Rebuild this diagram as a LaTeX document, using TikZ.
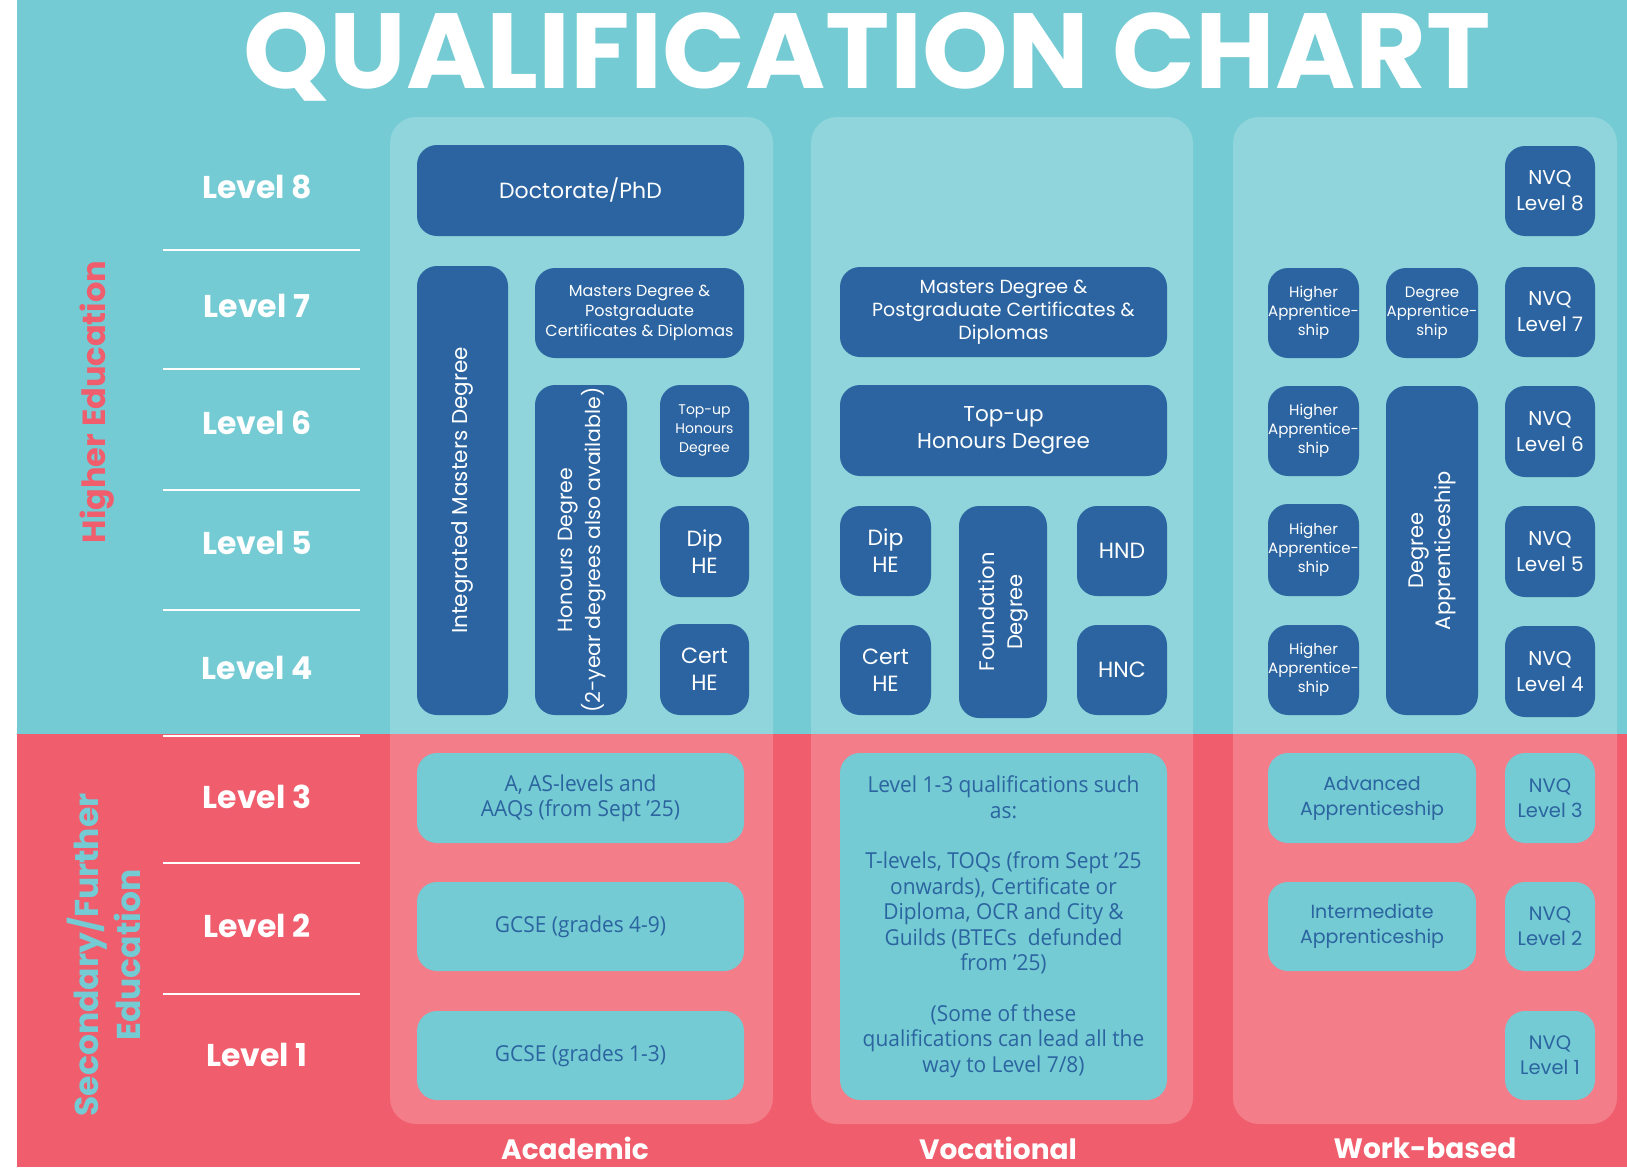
\documentclass[tikz,border=0pt]{standalone}
\usepackage{graphicx}
\usepackage{fontspec}
\setmainfont{Poppins}
\newfontfamily\condfont{Open Sans}[FakeStretch=0.95]
\definecolor{qteal}{HTML}{74CBD3}
\definecolor{qpink}{HTML}{F05D6C}
\definecolor{qblue}{HTML}{2B64A0}
\newcommand\fs[2]{\fontsize{#1}{#2}\selectfont}
\newcommand\qbx[7]{\node[#1, minimum width={(#5-#3)*1pt}, minimum height={(#6-#4)*1pt}] (#2) at ({(#3+#5)/2},{(#4+#6)/2}) {#7};}
\newcommand\vtxt[1]{\rotatebox{90}{\begin{tabular}{@{}c@{}}#1\end{tabular}}}
\tikzset{
  dbox/.style={rounded corners=20pt, fill=qblue, text=white, align=center, inner sep=0pt},
  tbox/.style={rounded corners=20pt, fill=qteal, text=qblue, align=center, inner sep=0pt},
  panel/.style={rounded corners=26pt, fill=white, fill opacity=0.2},
  lvl/.style={text=white, font=\fs{31.5}{36}\bfseries},
  levelrule/.style={draw=white, line width=2pt},
  collabel/.style={text=white, font=\fs{28}{34}\bfseries},
}
\begin{document}
\begin{tikzpicture}[x=1pt,y=-1pt]
\useasboundingbox (0,0) rectangle (1627,1167);
\fill[white] (0,0) rectangle (1627,1167);
\fill[qteal] (17,0) rectangle (1627,734);
\fill[qpink] (17,734) rectangle (1627,1167);
% panels
\fill[panel] (390,117) rectangle (773,1124);
\fill[panel] (811,117) rectangle (1193,1124);
\fill[panel] (1233,117) rectangle (1617,1124);
% title
\node[anchor=base, text=white, inner sep=0pt] (title) at (867.5,88) {\resizebox{1247pt}{76pt}{\bfseries QUALIFICATION CHART}};
% side labels
\node[rotate=90, text=qpink, font=\fs{32}{38}\bfseries] (he) at (97,402) {Higher Education};
\node[rotate=90, text=qteal, align=center, font=\fs{33}{42}\bfseries] (sfe) at (104,955) {Secondary/Further\\Education};
% levels
\node[lvl] (l8) at (257,187) {Level 8};
\node[lvl] (l7) at (257,306) {Level 7};
\node[lvl] (l6) at (257,423) {Level 6};
\node[lvl] (l5) at (257,543) {Level 5};
\node[lvl] (l4) at (257,668) {Level 4};
\node[lvl] (l3) at (257,797) {Level 3};
\node[lvl] (l2) at (257,926) {Level 2};
\node[lvl] (l1) at (257,1055) {Level 1};
\foreach \yy in {250,369,490,610,736,863,994}{\draw[levelrule] (163,\yy) -- (360,\yy);}
% column labels
\node[collabel] (acad) at (575,1148) {Academic};
\node[collabel] (voc) at (998,1148) {Vocational};
\node[collabel] (work) at (1425,1148) {Work-based};
% Academic
\qbx{dbox,font=\fs{22}{26}}{phd}{417}{145}{744}{236}{Doctorate/PhD}
\qbx{dbox,font=\fs{21.5}{26}}{ima}{417}{266}{508}{715}{\rotatebox{90}{Integrated Masters Degree}}
\qbx{dbox,font=\fs{16}{20}}{amas}{535}{268}{744}{358}{Masters Degree \&\\Postgraduate\\Certificates \& Diplomas}
\qbx{dbox,font=\fs{20.5}{28}}{hon}{535}{385}{627}{715}{\vtxt{Honours Degree\\(2-year degrees also available)}}
\qbx{dbox,font=\fs{14}{19}}{atop}{660}{385}{749}{477}{Top-up\\Honours\\Degree}
\qbx{dbox,font=\fs{22}{27}}{adip}{660}{506}{749}{597}{Dip\\HE}
\qbx{dbox,font=\fs{22}{27}}{acert}{660}{624}{749}{715}{Cert\\HE}
\qbx{tbox,font=\condfont\fs{22}{25}}{alev}{417}{753}{744}{843}{A, AS-levels and\\AAQs (from Sept ’25)}
\qbx{tbox,font=\condfont\fs{22}{25}}{gcsea}{417}{882}{744}{971}{GCSE (grades 4-9)}
\qbx{tbox,font=\condfont\fs{22}{25}}{gcseb}{417}{1011}{744}{1100}{GCSE (grades 1-3)}
% Vocational
\qbx{dbox,font=\fs{19}{23}}{vmas}{840}{267}{1167}{357}{Masters Degree \&\\Postgraduate Certificates \&\\Diplomas}
\qbx{dbox,font=\fs{21.5}{27}}{vtop}{840}{385}{1167}{476}{Top-up\\Honours Degree}
\qbx{dbox,font=\fs{22}{27}}{vdip}{840}{506}{931}{596}{Dip\\HE}
\qbx{dbox,font=\fs{22}{27}}{vcert}{840}{625}{931}{715}{Cert\\HE}
\qbx{dbox,font=\fs{21}{28}}{vfd}{959}{506}{1047}{718}{\vtxt{Foundation\\Degree}}
\qbx{dbox,font=\fs{22}{27}}{vhnd}{1077}{506}{1167}{596}{HND}
\qbx{dbox,font=\fs{22}{27}}{vhnc}{1077}{625}{1167}{715}{HNC}
\qbx{tbox,font=\condfont\fs{22}{25.5}}{vpink}{840}{753}{1167}{1100}{Level 1-3 qualifications such\\as:\\[25pt]T-levels, TOQs (from Sept ’25\\onwards), Certificate or\\Diploma, OCR and City \&\\Guilds (BTECs\ \ defunded\\from ’25)\\[25pt](Some of these\\qualifications can lead all the\\way to Level 7/8)}
% Work-based
\qbx{dbox,font=\fs{20}{26}}{nvqh}{1505}{146}{1595}{236}{NVQ\\Level 8}
\qbx{dbox,font=\fs{15}{19}}{hag}{1268}{268}{1359}{358}{Higher\\Apprentice-\\ship}
\qbx{dbox,font=\fs{15}{19}}{dag}{1386}{268}{1478}{358}{Degree\\Apprentice-\\ship}
\qbx{dbox,font=\fs{20}{26}}{nvqg}{1505}{267}{1595}{357}{NVQ\\Level 7}
\qbx{dbox,font=\fs{15}{19}}{haf}{1268}{386}{1359}{476}{Higher\\Apprentice-\\ship}
\qbx{dbox,font=\fs{21}{27}}{dapp}{1386}{386}{1478}{715}{\vtxt{Degree\\Apprenticeship}}
\qbx{dbox,font=\fs{20}{26}}{nvqf}{1505}{386}{1595}{477}{NVQ\\Level 6}
\qbx{dbox,font=\fs{15}{19}}{hae}{1268}{504}{1359}{596}{Higher\\Apprentice-\\ship}
\qbx{dbox,font=\fs{20}{26}}{nvqe}{1505}{506}{1595}{597}{NVQ\\Level 5}
\qbx{dbox,font=\fs{15}{19}}{had}{1268}{625}{1359}{715}{Higher\\Apprentice-\\ship}
\qbx{dbox,font=\fs{20}{26}}{nvqd}{1505}{626}{1595}{717}{NVQ\\Level 4}
\qbx{tbox,font=\fs{19}{25}}{adv}{1268}{753}{1476}{843}{Advanced\\Apprenticeship}
\qbx{tbox,font=\fs{19.5}{25}}{nvqc}{1505}{753}{1595}{843}{NVQ\\Level 3}
\qbx{tbox,font=\fs{19}{25}}{inter}{1268}{882}{1476}{971}{Intermediate\\Apprenticeship}
\qbx{tbox,font=\fs{19.5}{25}}{nvqb}{1505}{882}{1595}{971}{NVQ\\Level 2}
\qbx{tbox,font=\fs{19.5}{25}}{nvqa}{1505}{1011}{1595}{1100}{NVQ\\Level 1}
\end{tikzpicture}
\end{document}
